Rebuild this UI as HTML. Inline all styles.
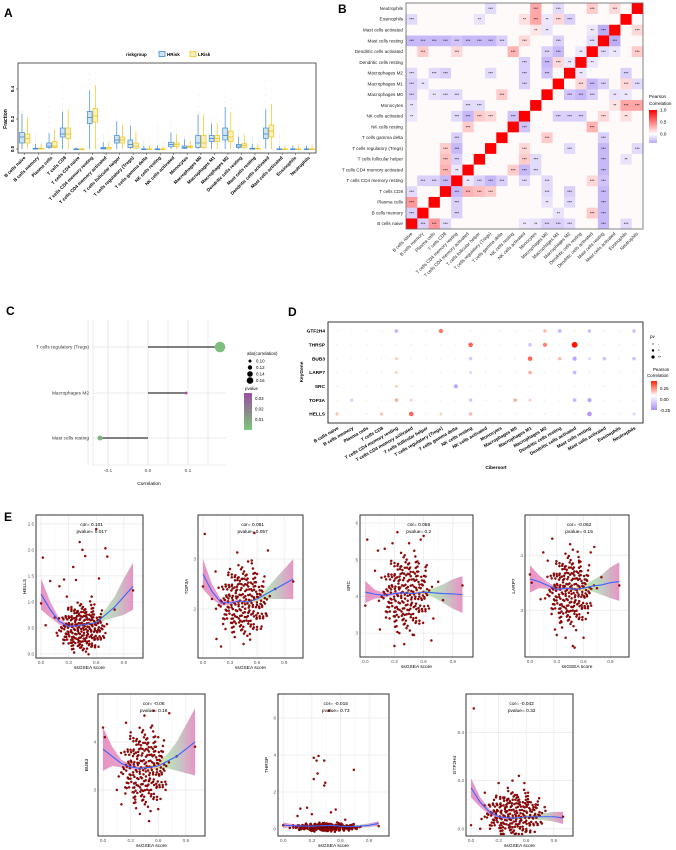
<!DOCTYPE html>
<html><head><meta charset="utf-8"><style>
html,body{margin:0;padding:0;background:#fff}
svg{display:block;font-family:"Liberation Sans",sans-serif}
</style></head><body>
<svg id="fig" width="676" height="850" viewBox="0 0 676 850" xmlns="http://www.w3.org/2000/svg">
<defs>
<linearGradient id="bandGrad" x1="0" x2="1" y1="0" y2="0">
<stop offset="0" stop-color="#e070b0"/><stop offset="0.35" stop-color="#e890c0"/><stop offset="0.55" stop-color="#f0c060"/><stop offset="0.68" stop-color="#a8dca0"/><stop offset="0.82" stop-color="#b0b8b0"/><stop offset="1" stop-color="#e070b0"/>
</linearGradient>
<linearGradient id="pearsonGrad" x1="0" x2="0" y1="1" y2="0">
<stop offset="0" stop-color="#b9a6f5"/><stop offset="0.27" stop-color="#ffffff"/><stop offset="1" stop-color="#ff0000"/>
</linearGradient>
<linearGradient id="pearsonGradD" x1="0" x2="0" y1="1" y2="0">
<stop offset="0" stop-color="#a98cf8"/><stop offset="0.5" stop-color="#ffffff"/><stop offset="1" stop-color="#ff2000"/>
</linearGradient>
<linearGradient id="pvalGrad" x1="0" x2="0" y1="1" y2="0">
<stop offset="0" stop-color="#7cc77c"/><stop offset="0.5" stop-color="#8a8a8a"/><stop offset="1" stop-color="#9b4ea0"/>
</linearGradient>
</defs>
<g id="A"></g>
<g id="B"></g>
<g id="C"></g>
<g id="D"></g>
<g id="E"></g>
</svg>
<script>
// ---------- DATA ----------
const cellTypes = ["B cells naive","B cells memory","Plasma cells","T cells CD8","T cells CD4 naive","T cells CD4 memory resting","T cells CD4 memory activated","T cells follicular helper","T cells regulatory (Tregs)","T cells gamma delta","NK cells resting","NK cells activated","Monocytes","Macrophages M0","Macrophages M1","Macrophages M2","Dendritic cells resting","Mast cells resting","Dendritic cells activated","Mast cells activated","Eosinophils","Neutrophils"];
const heatTypes = ["B cells naive","B cells memory","Plasma cells","T cells CD8","T cells CD4 memory resting","T cells CD4 memory activated","T cells follicular helper","T cells regulatory (Tregs)","T cells gamma delta","NK cells resting","NK cells activated","Monocytes","Macrophages M0","Macrophages M1","Macrophages M2","Dendritic cells resting","Dendritic cells activated","Mast cells resting","Mast cells activated","Eosinophils","Neutrophils"];
const dTypes = ["B cells naive","B cells memory","Plasma cells","T cells CD8","T cells CD4 memory resting","T cells CD4 memory activated","T cells follicular helper","T cells regulatory (Tregs)","T cells gamma delta","NK cells resting","NK cells activated","Monocytes","Macrophages M0","Macrophages M1","Macrophages M2","Dendritic cells resting","Dendritic cells activated","Mast cells resting","Mast cells activated","Eosinophils","Neutrophils"];
const hMed=[.08,0,.02,.10,0,.21,.005,.06,.03,0,0,.03,.01,.04,.07,.09,.02,0,.10,0,0,0];
const hQ1 =[.04,0,.01,.08,0,.17,0,.04,.01,0,0,.015,.005,.01,.05,.06,.01,0,.07,0,0,0];
const hQ3 =[.11,.005,.04,.14,0,.25,.01,.09,.06,0,0,.045,.02,.09,.09,.14,.03,.005,.14,0,0,0];
const hMax=[.25,.10,.28,.42,.01,.50,.09,.20,.19,.05,.15,.18,.08,.36,.20,.38,.12,.08,.45,.10,.02,.02];
const lMed=[.07,0,.02,.10,0,.22,0,.06,.02,0,0,.03,.015,.04,.07,.08,.025,0,.12,0,0,0];
const lQ1 =[.04,0,.01,.07,0,.18,0,.04,.005,0,0,.015,.01,.01,.05,.05,.01,0,.08,0,0,0];
const lQ3 =[.10,.005,.05,.14,0,.27,.01,.08,.04,0,0,.04,.02,.09,.09,.12,.035,.005,.16,0,0,0];
const lMax=[.25,.04,.20,.38,.01,.55,.10,.20,.15,.08,.05,.15,.18,.37,.23,.33,.11,.05,.58,.15,.03,.03];
const aTicks=[0,0.2,0.4];
const heatPairs=[[0,1,-.2],[0,2,.4],[0,3,-.15],[0,10,-.1],[0,11,-.12],[0,12,-.2],[0,13,-.2],[0,14,-.15],[0,17,-.3],[0,19,-.15],
[1,4,-.2],[1,17,-.25],[1,16,.2],[1,13,-.12],[2,4,-.2],[2,17,-.2],[2,14,-.15],[2,12,-.12],
[3,4,-.3],[3,5,.3],[3,6,.25],[3,7,.2],[3,14,-.2],[3,12,-.15],[3,17,-.25],
[4,5,-.1],[4,6,-.2],[4,7,-.3],[4,8,-.2],[4,10,-.15],[4,12,-.15],[4,16,.15],[4,17,-.25],
[5,9,.2],[5,10,-.3],[5,11,-.15],[5,17,-.3],[6,10,.2],[6,11,-.15],[6,17,-.25],[6,19,-.12],
[7,10,.15],[7,14,-.15],[7,17,-.25],[7,20,-.15],[8,12,.2],[9,10,-.25],[9,16,.3],
[10,13,-.2],[10,14,-.2],[10,15,-.2],[10,17,.15],[10,19,.12],[11,19,.35],[11,20,.35],[11,18,.1],
[12,14,-.25],[12,15,-.3],[12,16,-.2],[12,18,-.12],[13,15,.15],[13,16,-.3],[13,17,-.2],[13,19,.15],[13,20,-.15],
[14,15,-.1],[14,19,-.2],[15,16,-.1],[16,17,-.15],[16,18,-.1],[16,20,.2],[17,18,-.35],[18,20,.15],[19,12,-.1],
[17,1,-.3],[17,2,-.3],[17,3,-.3],[17,5,-.3],[17,6,-.3],[17,7,-.3],[17,8,-.2]];
const heatTicks=[0,0.5,1.0];
const cCats=["T cells regulatory (Tregs)","Macrophages M2","Mast cells resting"];
const cCor=[0.18,0.095,-0.12];
const cP=[0.002,0.03,0.005];
const cTicks=[-0.1,0,0.1];
const genes=["GTF2H4","THRSP","BUB3","LARP7","SRC","TOP3A","HELLS"];
const dotVals=[[0,4,-.15],[0,7,.22],[0,14,.1],[0,15,-.15],[0,17,-.12],[0,20,-.12],
[1,9,.25],[1,13,-.12],[1,14,.2],[1,16,.4],
[2,4,.06],[2,9,-.1],[2,13,.25],[2,15,.1],[2,16,-.2],[2,17,-.05],[2,18,-.12],[2,20,-.12],
[3,4,.05],[3,9,-.05],[3,13,.12],[3,16,-.15],[4,4,.05],[4,8,-.2],
[5,1,-.08],[5,4,.12],[5,5,.05],[5,9,-.1],[5,12,.12],[5,13,.05],[5,16,-.15],[5,17,-.2],
[6,0,.08],[6,3,.08],[6,5,.25],[6,7,.05],[6,9,.1],[6,17,-.25],[6,20,-.05]];
const sNames=["HELLS","TOP3A","SRC","LARP7","BUB3","THRSP","GTF2H4"];
const sCor=["0.101","0.081","0.055","-0.062","-0.06","-0.015","-0.042"];
const sP=["0.017","0.057","0.2","0.15","0.16","0.73","0.32"];
const sYlim=[[-0.08,2.67],[1.02,3.88],[2.35,6.22],[2.15,4.73],[2.04,5.0],[-0.38,7.3],[-0.03,0.56]];
const sYticks=[[0,0.5,1,1.5,2,2.5],[2,3],[3,4,5,6],[3,4],[3,4],[0,2,4,6],[0,0.2,0.4]];
const sCurve=[[1.15,.85,.62,.53,.54,.57,.6,.75,.9,1.1,1.3],[2.7,2.35,2.13,2.12,2.16,2.14,2.2,2.3,2.4,2.5,2.6],[4.12,4.06,4.03,4.08,4.1,4.08,4.12,4.1,4.08,4.07,4.05],[3.57,3.52,3.45,3.38,3.4,3.38,3.4,3.44,3.46,3.5,3.52],[3.85,3.7,3.55,3.48,3.45,3.47,3.5,3.6,3.7,3.85,4.0],[0.2,0.18,0.16,0.15,0.18,0.2,0.15,0.12,0.15,0.2,0.3],[0.17,0.11,0.07,0.05,0.045,0.045,0.05,0.05,0.05,0.05,0.045]];
const sBand=[[.3,.15,.06,.03,.03,.03,.04,.1,.2,.35,.45],[.3,.15,.06,.04,.03,.03,.05,.1,.2,.3,.4],[.3,.12,.06,.04,.03,.03,.05,.12,.25,.4,.5],[.25,.12,.06,.04,.03,.03,.05,.1,.18,.28,.35],[.45,.2,.08,.05,.04,.04,.06,.15,.3,.5,.7],[.15,.08,.05,.04,.04,.04,.05,.06,.08,.1,.12],[.04,.02,.012,.008,.007,.007,.008,.012,.015,.02,.025]];
const sCloud=[[0.45,0.5,0.11,0.2],[0.45,2.15,0.12,0.3],[0.42,4.1,0.11,0.45],[0.45,3.35,0.11,0.28],[0.45,3.45,0.11,0.35],[0.45,0.1,0.15,0.1],[0.47,0.06,0.14,0.04]];
const sPts=[
[[.02,1.85],[.1,1.4],[.35,1.67],[.42,2.15],[.45,2.0],[.48,1.88],[.6,2.4],[.7,2.03],[.72,1.87],[.63,1.45],[0,.97],[.05,.55],[1,1.22],[.8,.85],[.25,1.43],[.38,1.42],[.2,1.3],[.55,1.1],[.3,.2],[.5,.1],[.65,.6],[.15,.7],[.33,.9],[.58,.95],[.28,1.1],[.4,.15],[.7,.4],[.18,.35]],
[[.02,3.5],[.57,3.52],[.72,3.17],[.38,3.13],[.5,2.95],[.54,2.97],[.14,2.75],[0,2.45],[.2,1.25],[.15,1.4],[.45,1.3],[.8,2.4],[1,2.55],[.25,1.6],[.65,1.65],[.3,2.8],[.6,2.7],[.1,2.2],[.7,1.9],[.35,1.75],[.43,2.6],[.52,1.5]],
[[.02,5.55],[.33,5.75],[.28,5.45],[.2,5.3],[.13,5.25],[.57,5.55],[.6,5.65],[.45,5.45],[0,3.75],[.3,2.65],[.4,2.7],[.68,2.8],[.15,3.1],[.5,2.95],[.8,3.9],[1,4.3],[.7,3.4],[.1,4.7],[.55,4.9],[.25,3.4],[.35,3.0],[.62,4.8],[.75,4.4]],
[[.25,4.3],[.45,4.2],[.48,4.1],[.72,4.15],[.68,4.05],[.15,4.05],[0,3.65],[.02,3.5],[.4,2.5],[.48,2.35],[.5,2.32],[.6,2.5],[.3,2.55],[.28,2.65],[1,3.45],[.8,3.6],[.2,3.9],[.55,3.9],[.65,2.95],[.35,2.8],[.12,3.2],[.75,3.4]],
[[.55,4.65],[.72,4.6],[.45,4.55],[0,4.3],[.02,4.1],[.2,2.7],[.4,2.5],[.5,2.35],[.6,2.6],[1,3.9],[.8,3.7],[.3,4.2],[.6,4.1],[.15,3.0],[.68,3.0],[.35,2.8],[.25,4.4],[.52,4.3]],
[[.48,6.4],[.32,3.85],[.37,3.95],[.35,3.7],[.43,3.7],[.74,3.2],[.36,3.0],[.32,2.7],[.44,2.5],[.43,2.35],[.18,1.1],[.25,1.15],[.55,1.05],[.5,0.9],[.15,0.7],[1,0.15],[0,0.2],[.3,0.8],[.65,0.5],[.8,0.1]],
[[.03,0.5],[.52,0.22],[.45,0.2],[.3,0.19],[.58,0.19],[.4,0.17],[.62,0.15],[.15,0.15],[.7,0.1],[0,0.015],[.1,0.0],[.8,0.09],[1,0.05],[.35,0.13],[.25,0.12],[.5,0.14],[.2,0.1],[.65,0.11]]];
// ---------- HELPERS ----------
const NS="http://www.w3.org/2000/svg";
function mk(parent,tag,attrs,txt){const e=document.createElementNS(NS,tag);for(const k in attrs)e.setAttribute(k,attrs[k]);if(txt!==undefined)e.textContent=txt;parent.appendChild(e);return e;}
function lab(g,x,y,t,size,bold){return mk(g,'text',{x:x,y:y,'font-size':size,'font-weight':bold?'bold':'normal','font-family':'Liberation Sans, sans-serif'},t);}
function lerp(a,b,t){return Math.round(a+(b-a)*t);}
function heatColor(r){if(r>=0){const t=Math.min(r,1);return `rgb(255,${lerp(255,0,t)},${lerp(255,0,t)})`;}const t=Math.min(-r/0.4,1);return `rgb(${lerp(255,180,t)},${lerp(255,160,t)},${lerp(255,245,t)})`;}
function dotColor(r){if(r>=0){const t=Math.min(r/0.4,1);return `rgb(255,${lerp(235,20,t)},${lerp(225,0,t)})`;}const t=Math.min(-r/0.3,1);return `rgb(${lerp(235,165,t)},${lerp(230,135,t)},255)`;}

// ---------- PANEL A ----------
(function(){
const g=document.getElementById('A');
const L=18,R=316,T=63,B=153,y0=149,k=150;
const yA=v=>y0-v*k;
const step=(R-L)/cellTypes.length;
const t=lab(g,4,17,"A",12,true);
const lg=mk(g,'g',{});
lab(lg,126,56,"riskgroup",4.5,true);
mk(lg,'rect',{x:159,y:51.5,width:6,height:5,fill:'#cfe3f5',stroke:'#3a8ad6','stroke-width':0.8});lab(lg,167,56,"HRisk",4.5,true);
mk(lg,'rect',{x:190,y:51.5,width:6,height:5,fill:'#fbefc0',stroke:'#f0c419','stroke-width':0.8});lab(lg,198,56,"LRisk",4.5,true);
const frame=mk(g,'rect',{x:L,y:T,width:R-L,height:B-T,fill:'#fff',stroke:'#333','stroke-width':0.8});

aTicks.forEach(v=>{mk(g,'line',{x1:L-2,x2:L,y1:yA(v),y2:yA(v),stroke:'#333','stroke-width':0.5});
 const tx=lab(g,L-4,yA(v),v.toFixed(1),4.5,true);tx.setAttribute('transform',`rotate(-90 ${L-4} ${yA(v)})`);tx.setAttribute('text-anchor','middle');
 });
const yt=lab(g,7,yA(0.2),"Fraction",5,true);yt.setAttribute('transform',`rotate(-90 7 ${yA(0.2)})`);yt.setAttribute('text-anchor','middle');

function box(cx,med,q1,q3,mx,col,fill,name){
 const bg=mk(g,'g',{});
 for(let i=0;i<8;i++){const v=q3+(mx-q3)*(i/7);mk(bg,'circle',{cx:cx,cy:yA(v),r:0.35,fill:col,opacity:0.5});}
 mk(bg,'line',{x1:cx,x2:cx,y1:yA(Math.min(mx,q3+(q3-q1)*1.5+0.02)),y2:yA(0),stroke:col,'stroke-width':0.7});
 mk(bg,'rect',{x:cx-2.4,y:yA(q3),width:4.8,height:Math.max(yA(q1)-yA(q3),0.6),fill:fill,stroke:col,'stroke-width':0.7});
 mk(bg,'line',{x1:cx-2.4,x2:cx+2.4,y1:yA(med),y2:yA(med),stroke:col,'stroke-width':0.8});
}
cellTypes.forEach((c,i)=>{
 const cx=L+(i+0.5)*step;
 box(cx-2.8,hMed[i],hQ1[i],hQ3[i],hMax[i],'#3a8ad6','#cfe3f5','box-hrisk-'+i);
 box(cx+2.8,lMed[i],lQ1[i],lQ3[i],lMax[i],'#f0c419','#fbefc0','box-lrisk-'+i);
 mk(g,'line',{x1:cx,x2:cx,y1:B,y2:B+2,stroke:'#333','stroke-width':0.5});
 const tx=lab(g,cx+1,B+5,c,4.6,true);tx.setAttribute('text-anchor','end');tx.setAttribute('transform',`rotate(-45 ${cx+1} ${B+5})`);
 
});
})();

// ---------- PANEL B ----------
(function(){
const g=document.getElementById('B');
const t=lab(g,338,13,"B",12,true);
const n=heatTypes.length,L=406,T=3,W=237,H=226,cw=W/n,ch=H/n;
const M=[];for(let i=0;i<n;i++){M.push(new Array(n).fill(0.02));M[i][i]=1;}
heatPairs.forEach(p=>{M[p[0]][p[1]]=p[2];M[p[1]][p[0]]=p[2];});
mk(g,'rect',{x:L,y:T,width:W,height:H,fill:'#fff'});
for(let i=0;i<n;i++)for(let j=0;j<n;j++){
 const x=L+j*cw,y=T+(n-1-i)*ch;
 const c=mk(g,'rect',{x:x,y:y,width:cw+0.2,height:ch+0.2,fill:heatColor(M[i][j])});
 
 const a=Math.abs(M[i][j]);
 if(i!==j&&a>=0.1){const s=a>=0.15?'***':'**';const st=lab(g,x+cw/2,y+ch/2+1.5,s,4,false);st.setAttribute('text-anchor','middle');}
}
mk(g,'rect',{x:L,y:T,width:W,height:H,fill:'none',stroke:'#666','stroke-width':0.8});
heatTypes.forEach((c,i)=>{
 const y=T+(n-1-i+0.5)*ch;
 const r=lab(g,L-3,y+1.6,c,4.6,false);r.setAttribute('text-anchor','end');r.setAttribute('fill','#222');
 
 const x=L+(i+0.5)*cw;
 const cl=lab(g,x+1,T+H+5,c,4.6,false);cl.setAttribute('text-anchor','end');cl.setAttribute('transform',`rotate(-45 ${x+1} ${T+H+5})`);cl.setAttribute('fill','#222');
 
});
const lg=mk(g,'g',{});
lab(lg,649,98,"Pearson",4.6,false);lab(lg,649,105,"Correlation",4.6,false);
const bT=110,bB=143;mk(lg,'rect',{x:649,y:bT,width:8,height:bB-bT,fill:'url(#pearsonGrad)'});
heatTicks.forEach(v=>{const y=bB-(v+0.37)/1.37*(bB-bT);lab(lg,660,y+1.5,v.toFixed(1),4.6,false);});
})();

// ---------- PANEL C ----------
(function(){
const g=document.getElementById('C');
const t=lab(g,6,315,"C",12,true);
const L=93,R=226,T=320,B=465,x0=148,k=400;
const xC=v=>x0+v*k;
const rows=[347,393,438];
[-0.15,-0.1,-0.05,0,0.05,0.1,0.15].forEach(v=>mk(g,'line',{x1:xC(v),x2:xC(v),y1:T,y2:B,stroke:'#e4e4e4','stroke-width':0.8}));
rows.forEach(y=>mk(g,'line',{x1:L,x2:R,y1:y,y2:y,stroke:'#e4e4e4','stroke-width':0.8}));
mk(g,'line',{x1:L,x2:L,y1:T,y2:B,stroke:'#ddd','stroke-width':0.6});
mk(g,'line',{x1:L,x2:R,y1:B,y2:B,stroke:'#ddd','stroke-width':0.6});
cTicks.forEach(v=>{const tx=lab(g,xC(v),B+7,v===0?"0.0":v.toFixed(1),4.8,false);tx.setAttribute('text-anchor','middle');tx.setAttribute('fill','#444');});
const xt=lab(g,149,485,"Correlation",4.8,false);xt.setAttribute('text-anchor','middle');
const pc=p=>{const t=Math.min(p/0.03,1);return t<0.5?`rgb(${lerp(124,138,t*2)},${lerp(199,138,t*2)},${lerp(124,138,t*2)})`:`rgb(${lerp(138,155,(t-.5)*2)},${lerp(138,78,(t-.5)*2)},${lerp(138,160,(t-.5)*2)})`;};
cCats.forEach((c,i)=>{
 const y=rows[i];
 const rl=lab(g,L-4,y+1.6,c,4.8,false);rl.setAttribute('text-anchor','end');rl.setAttribute('fill','#333');
 
 const ln=mk(g,'line',{x1:xC(0),x2:xC(cCor[i]),y1:y,y2:y,stroke:'#333','stroke-width':1.3});
 
 const d=mk(g,'circle',{cx:xC(cCor[i]),cy:y,r:1.2+Math.max(0,(Math.abs(cCor[i])-0.09))*45,fill:pc(cP[i])});
 
});
const lg=mk(g,'g',{});
lab(lg,247,355,"abs(correlation)",4.4,false);
[[0.10,1.5],[0.12,2.2],[0.14,2.8],[0.16,3.3]].forEach((s,i)=>{const y=361+i*6.5;mk(lg,'circle',{cx:250,cy:y,r:s[1],fill:'#000'});lab(lg,256,y+1.6,s[0].toFixed(2),4.4,false);});
lab(lg,245,390,"pvalue",4.4,false);
mk(lg,'rect',{x:244,y:393,width:8,height:37,fill:'url(#pvalGrad)'});
["0.03","0.02","0.01"].forEach((s,i)=>lab(lg,255,400+i*10.5,s,4.4,false));
})();

// ---------- PANEL D ----------
(function(){
const g=document.getElementById('D');
const t=lab(g,288,316,"D",12,true);
const L=328,R=643,T=322,B=423;
const nc=dTypes.length,x0=337,cw=(634-337)/(nc-1);
const xD=j=>x0+j*cw, yD=i=>331+i*13.83;
mk(g,'rect',{x:L,y:T,width:R-L,height:B-T,fill:'#fff',stroke:'#222','stroke-width':0.9});
genes.forEach((gn,i)=>{
 const tx=lab(g,L-3,yD(i)+1.6,gn,4.8,true);tx.setAttribute('text-anchor','end');
 
 for(let j=0;j<nc;j++)mk(g,'circle',{cx:xD(j),cy:yD(i),r:0.6,fill:'#e6e0e0'});
});
dotVals.forEach(d=>{const c=mk(g,'circle',{cx:xD(d[1]),cy:yD(d[0]),r:1.3+Math.abs(d[2])*4,fill:dotColor(d[2])});
 });
dTypes.forEach((c,j)=>{const x=xD(j)+2;const tx=lab(g,x,B+6,c,4.6,true);tx.setAttribute('text-anchor','end');tx.setAttribute('transform',`rotate(-30 ${x} ${B+6})`);
 });
const xt=lab(g,496,469,"Cibersort",4.8,true);xt.setAttribute('text-anchor','middle');
const yt=lab(g,303,372,"KeyGene",4.8,true);yt.setAttribute('text-anchor','middle');yt.setAttribute('transform','rotate(-90 303 372)');
const lg=mk(g,'g',{});
lab(lg,650,338,"pv",4.6,false);
[[0.6,"-"],[1.2,"*"],[1.6,"**"]].forEach((s,i)=>{mk(lg,'circle',{cx:653,cy:344+i*6.5,r:s[0],fill:'#000'});lab(lg,658,345.5+i*6.5,s[1],4,false);});
lab(lg,653,371,"Pearson",4.4,false);lab(lg,647,377,"Correlation",4.4,false);
mk(lg,'rect',{x:651,y:381,width:6,height:29,fill:'url(#pearsonGradD)'});
["0.25","0.00","-0.25"].forEach((s,i)=>lab(lg,660,390+i*11,s,4.4,false));
})();

// ---------- PANEL E ----------
(function(){
const g=document.getElementById('E');
const t=lab(g,4,521,"E",12,true);
const boxes=[[36,515,107,143],[198,515,105,143],[360,515,113,142],[525,515,104,142],[98,694,107,142],[278,694,111,142],[466,694,107,142]];
sNames.forEach((nm,p)=>{
 const [L,T,W,H]=boxes[p];
 const sg=mk(g,'g',{});
 const xs=v=>L+0.047*W+v*0.86*W;
 const [y0,y1]=sYlim[p];const ys=v=>T+H-(v-y0)/(y1-y0)*H;
 mk(sg,'rect',{x:L,y:T,width:W,height:H,fill:'#fff'});
 [0,0.3,0.6,0.9].forEach(v=>mk(sg,'line',{x1:xs(v),x2:xs(v),y1:T,y2:T+H,stroke:'#ebebeb','stroke-width':0.8}));
 [0.15,0.45,0.75].forEach(v=>mk(sg,'line',{x1:xs(v),x2:xs(v),y1:T,y2:T+H,stroke:'#f4f4f4','stroke-width':0.5}));
 sYticks[p].forEach(v=>mk(sg,'line',{x1:L,x2:L+W,y1:ys(v),y2:ys(v),stroke:'#ebebeb','stroke-width':0.8}));
 const xsN=sCurve[p].map((_,i)=>i/10);
 let up=xsN.map((x,i)=>`${xs(x)},${ys(sCurve[p][i]+sBand[p][i])}`);
 let dn=xsN.map((x,i)=>`${xs(x)},${ys(sCurve[p][i]-sBand[p][i])}`).reverse();
 const band=mk(sg,'polygon',{points:up.concat(dn).join(' '),fill:'url(#bandGrad)',opacity:0.75});
 
 const cl=sCloud[p];
 const cloud=mk(sg,'g',{});
 const ryPx=Math.abs(ys(0)-ys(cl[3])), rxPx=cl[2]*0.86*W;
 for(let a=0;a<230;a++){const ang=a*2.39996;const f=(a*1.41421356)%1;const rr=2.2*Math.sqrt((a+0.5)/230)*(0.75+0.5*f);
  let cx=xs(cl[0])+Math.cos(ang)*rxPx*rr, cy=ys(cl[1])+Math.sin(ang)*ryPx*rr;
  cx=Math.max(L+2,Math.min(L+W-2,cx));cy=Math.max(T+2,Math.min(T+H-2,cy));
  mk(cloud,'circle',{cx:cx,cy:cy,r:1.1,fill:'#b00000',stroke:'#300',"stroke-width":0.3});}
 sPts[p].forEach(pt=>{const c=mk(sg,'circle',{cx:xs(pt[0]),cy:ys(pt[1]),r:1.1,fill:'#c00000',stroke:'#300','stroke-width':0.3});
  });
 const cv=mk(sg,'polyline',{points:xsN.map((x,i)=>`${xs(x)},${ys(sCurve[p][i])}`).join(' '),fill:'none',stroke:'#3c64ff','stroke-width':1.1});
 
 mk(sg,'rect',{x:L,y:T,width:W,height:H,fill:'none',stroke:'#333','stroke-width':1});
 const c1=lab(sg,L+W*0.52,T+11,"cor= "+sCor[p],4.8,false);c1.setAttribute('text-anchor','middle');
 const c2=lab(sg,L+W*0.52,T+18,"pvalue= "+sP[p],4.8,false);c2.setAttribute('text-anchor','middle');
 
 
 [0,0.3,0.6,0.9].forEach(v=>{const tx=lab(sg,xs(v),T+H+6,v.toFixed(1),4.6,false);tx.setAttribute('text-anchor','middle');tx.setAttribute('fill','#555');});
 sYticks[p].forEach(v=>{const s=(p===0||p===6)?v.toFixed(1):String(v);const tx=lab(sg,L-2,ys(v)+1.6,s,4.6,false);tx.setAttribute('text-anchor','end');tx.setAttribute('fill','#555');});
 const xt=lab(sg,L+W/2,T+H+11,"ssGSEA score",4.8,false);xt.setAttribute('text-anchor','middle');
 
 const yl=lab(sg,L-10,T+H/2,nm,4.8,false);yl.setAttribute('text-anchor','middle');yl.setAttribute('transform',`rotate(-90 ${L-10} ${T+H/2})`);
 
});
})();
</script>
</body></html>
